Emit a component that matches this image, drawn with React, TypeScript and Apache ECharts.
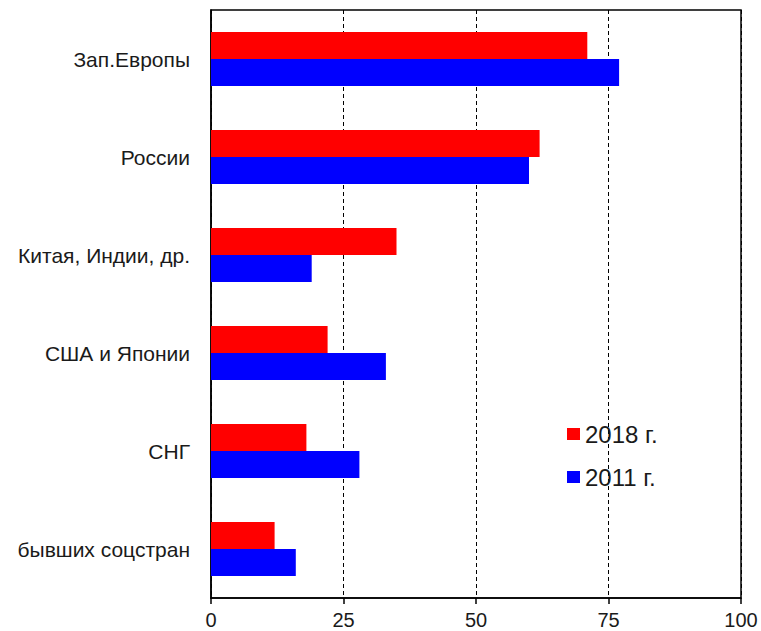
import React, { useEffect, useRef } from "react";
import * as echarts from "echarts";

const categories = ["Зап.Европы", "России", "Китая, Индии, др.", "США и Японии", "СНГ", "бывших соцстран"];
const values2018 = [71, 62, 35, 22, 18, 12];
const values2011 = [77, 60, 19, 33, 28, 16];
const seriesNames = ["2018 г.", "2011 г."];
const xTicks = [0, 25, 50, 75, 100];

export default function App() {
  const ref = useRef<HTMLDivElement>(null);
  useEffect(() => {
    if (!ref.current) return;
    const chart = echarts.init(ref.current, null, { renderer: "svg" });
    chart.setOption({
      animation: false,
      textStyle: { fontFamily: "Liberation Sans, Arial, sans-serif" },
      grid: {
        left: 211,
        right: 20,
        top: 10,
        bottom: 33,
        show: true,
        borderColor: "#000",
        borderWidth: 1.5,
        containLabel: false,
      },
      legend: {
        orient: "vertical",
        left: 562,
        top: 417,
        itemWidth: 13,
        itemHeight: 12,
        itemGap: 19,
        icon: "rect",
        data: seriesNames,
        textStyle: { fontSize: 24, color: "#1a1a1a", fontFamily: "Liberation Sans, Arial, sans-serif" },
      },
      xAxis: {
        type: "value",
        min: xTicks[0],
        max: xTicks[xTicks.length - 1],
        interval: 25,
        axisLine: { show: true, lineStyle: { color: "#000", width: 1.5 } },
        axisTick: { show: true, inside: false, length: 6, lineStyle: { color: "#000", width: 1.5 } },
        axisLabel: { fontSize: 20, color: "#1a1a1a", margin: 12 },
        splitLine: { show: true, lineStyle: { color: "#000", type: [4, 3], width: 1 } },
      },
      yAxis: {
        type: "category",
        inverse: true,
        data: categories,
        axisLine: { show: true, lineStyle: { color: "#000", width: 1.5 } },
        axisTick: { show: false },
        axisLabel: { fontSize: 21, color: "#1a1a1a", margin: 21 },
      },
      series: [
        {
          name: seriesNames[0],
          type: "bar",
          data: values2018,
          itemStyle: { color: "#ff0000" },
          barWidth: 27,
          barGap: "0%",
        },
        {
          name: seriesNames[1],
          type: "bar",
          data: values2011,
          itemStyle: { color: "#0000ff" },
          barWidth: 27,
          barGap: "0%",
        },
      ],
    });
    return () => chart.dispose();
  }, []);
  return <div ref={ref} style={{ width: 761, height: 631, position: "absolute", left: 0, top: 0 }} />;
}
